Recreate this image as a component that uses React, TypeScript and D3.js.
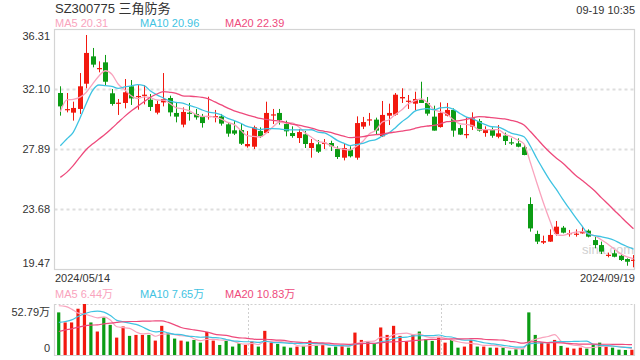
import React from 'react';
import * as d3 from 'd3';

// ---------- data ----------
const mayDays = [14, 15, 16, 17, 20, 21, 22, 23, 24, 27, 28, 29, 30, 31];
const junDays = [3, 4, 5, 6, 7, 11, 12, 13, 14, 17, 18, 19, 20, 21, 24, 25, 26, 27, 28];
const julDays = [1, 2, 3, 4, 5, 8, 9, 10, 11, 12, 15, 16, 17, 18, 19, 22, 23, 24, 25, 26, 29, 30, 31];
const augDays = [1, 2, 5, 6, 7, 8, 9, 12, 13, 14, 15, 16, 19, 20, 21, 22, 23, 26, 27, 28, 29, 30];
const sepDays = [2, 3, 4, 5, 6, 9, 10, 11, 12, 13, 18, 19];

const pad = (n: number) => (n < 10 ? '0' + n : '' + n);
const dates: string[] = [
  ...mayDays.map((d) => `2024/05/${pad(d)}`),
  ...junDays.map((d) => `2024/06/${pad(d)}`),
  ...julDays.map((d) => `2024/07/${pad(d)}`),
  ...augDays.map((d) => `2024/08/${pad(d)}`),
  ...sepDays.map((d) => `2024/09/${pad(d)}`),
];

const opens = [
  31.82, 30.65, 30.44, 30.70, 32.47, 34.39, 33.53, 33.97, 31.80, 31.09,
  31.12, 32.29, 31.56, 31.66, 31.35, 30.44, 31.16, 31.47, 30.42, 29.60,
  30.44, 30.35, 30.18, 30.16, 30.16, 30.18, 29.62, 29.20, 29.22, 28.08,
  28.05, 29.15, 29.01, 30.25, 30.42, 29.64, 29.01, 28.66, 28.92, 27.96,
  28.22, 28.29, 28.31, 27.89, 27.28, 27.84, 27.28, 29.46, 29.92, 29.95,
  28.78, 30.23, 30.30, 31.44, 31.23, 31.07, 31.35, 31.12, 30.16, 29.43,
  30.23, 30.63, 29.36, 28.90, 29.46, 29.85, 29.01, 29.22, 28.75, 28.83,
  28.36, 28.29, 28.01, 24.03, 21.93, 21.32, 21.39, 21.93, 22.37, 21.95,
  21.91, 21.97, 22.16, 21.50, 21.15, 20.43, 20.57, 20.40, 20.17, 20.08,
];
const highs = [
  32.29, 31.82, 31.21, 33.22, 35.89, 34.98, 34.04, 34.49, 32.10, 31.40,
  32.80, 32.73, 32.38, 32.38, 31.75, 31.28, 33.22, 31.63, 31.12, 30.81,
  31.12, 30.70, 30.35, 31.56, 30.63, 30.35, 29.76, 29.85, 29.67, 29.15,
  29.53, 29.41, 31.21, 30.70, 30.70, 29.88, 29.48, 29.29, 29.15, 28.59,
  28.52, 28.59, 28.47, 28.08, 28.24, 28.08, 30.18, 30.14, 30.42, 30.09,
  31.26, 31.07, 31.82, 32.15, 31.68, 31.91, 32.61, 31.54, 30.93, 31.16,
  31.12, 30.74, 29.57, 30.11, 30.46, 30.00, 29.48, 29.41, 29.57, 29.04,
  28.64, 28.64, 28.17, 24.50, 22.16, 21.81, 22.25, 22.84, 22.49, 22.21,
  22.25, 22.49, 22.25, 21.74, 21.39, 20.62, 20.80, 20.50, 20.22, 20.45,
];
const lows = [
  30.23, 30.46, 29.88, 30.35, 32.15, 33.62, 33.27, 32.33, 30.93, 30.28,
  30.74, 30.98, 30.65, 31.02, 30.56, 30.32, 30.88, 30.18, 29.76, 29.41,
  29.88, 29.95, 29.39, 29.95, 29.76, 29.53, 28.75, 28.87, 28.17, 27.98,
  27.89, 28.66, 29.01, 29.64, 29.60, 28.78, 28.68, 28.31, 27.96, 27.28,
  27.61, 27.89, 27.75, 27.19, 27.09, 27.30, 27.14, 29.29, 29.53, 28.94,
  28.73, 29.57, 30.23, 31.12, 30.70, 30.60, 31.12, 30.23, 29.18, 29.39,
  30.18, 28.75, 28.87, 28.64, 29.22, 29.11, 28.75, 28.68, 28.64, 28.17,
  28.17, 28.01, 27.45, 22.09, 21.22, 21.22, 21.37, 21.81, 21.97, 21.74,
  21.74, 21.95, 21.69, 20.92, 20.52, 20.29, 20.29, 20.03, 19.70, 19.59,
];
const closes = [
  30.88, 30.69, 30.77, 32.29, 34.63, 33.81, 33.57, 32.61, 31.05, 31.14,
  31.87, 31.44, 31.61, 31.70, 30.84, 31.05, 31.40, 30.46, 30.16, 30.49,
  30.38, 30.11, 29.71, 30.21, 30.20, 29.67, 28.97, 28.97, 28.26, 28.24,
  29.41, 28.78, 30.42, 30.32, 29.92, 29.13, 28.80, 29.08, 28.24, 28.31,
  27.70, 28.33, 28.08, 27.33, 27.96, 27.38, 29.71, 29.78, 29.97, 29.18,
  30.28, 30.42, 31.70, 31.54, 31.28, 31.40, 31.12, 30.37, 29.18, 30.42,
  30.63, 29.18, 28.90, 28.94, 30.04, 29.18, 29.22, 28.82, 28.99, 28.45,
  28.31, 28.05, 27.47, 22.32, 21.39, 21.43, 21.86, 22.44, 22.02, 21.99,
  21.95, 22.09, 21.74, 21.15, 20.69, 20.47, 20.33, 20.10, 19.98, 20.12,
];
// volume in 万 shares
const volumes = [
  44.1, 33.7, 33.7, 47.9, 52.79, 33.7, 24.3, 38.9, 31.2, 18.0,
  29.5, 19.8, 20.8, 20.8, 20.8, 14.9, 30.2, 22.6, 17.0, 14.9,
  13.9, 15.6, 12.8, 23.9, 14.9, 10.4, 14.6, 8.7, 12.1, 10.4,
  13.9, 8.7, 25.0, 12.8, 11.5, 8.7, 7.6, 8.7, 9.4, 14.9,
  9.7, 10.4, 7.6, 8.7, 10.4, 7.6, 23.2, 15.6, 13.9, 11.5,
  28.5, 20.8, 30.2, 19.8, 13.9, 20.8, 24.3, 16.3, 14.6, 18.0,
  12.8, 15.6, 7.6, 8.7, 15.6, 8.7, 8.7, 7.6, 7.6, 7.6,
  4.5, 5.9, 5.9, 44.1, 20.8, 12.8, 12.1, 15.6, 9.4, 7.6,
  6.6, 7.6, 6.6, 10.4, 12.8, 8.7, 7.6, 5.5, 5.2, 5.4,
];

// moving-average values for the first days (window reaches before the chart)
const ma5Lead = [30.51, 31.33, 31.37, 31.51];
const ma10Lead = [28.12, 28.59, 29.06, 30.0, 31.05, 31.98, 32.38, 32.33, 32.29];
const ma20Lead = [25.9, 26.25, 26.72, 27.3, 27.84, 28.24, 28.59, 28.94, 29.34, 29.76, 30.18, 30.56, 30.88, 31.21, 31.52, 31.75, 31.91, 31.87, 31.8];
const vma5Lead = [51.0, 50.3, 47.5, 43.4];
const vma10Lead = [33.7, 34.7, 36.4, 39.9, 42.7, 44.8, 45.5, 44.4, 40.9];
const vma20Lead = [24.3, 26.0, 27.1, 28.8, 30.2, 30.9, 31.2, 32.3, 33.0, 33.7, 34.4, 34.7, 34.7, 35.0, 35.0, 35.4, 35.4, 33.7, 31.2];

const priceTicks = ['36.31', '32.10', '27.89', '23.68', '19.47'];
const volTicks = ['52.79万', '0'];
const title = 'SZ300775 三角防务';
const timeLabel = '09-19 10:35';
const priceLegend = [
  { name: 'MA5', value: '20.31' },
  { name: 'MA10', value: '20.96' },
  { name: 'MA20', value: '22.39' },
];
const volLegend = [
  { name: 'MA5', value: '6.44万' },
  { name: 'MA10', value: '7.65万' },
  { name: 'MA20', value: '10.83万' },
];

// ---------- style ----------
const RED = '#f2190f';
const GREEN = '#0c9c14';
const MA_COLORS = ['#f9a3bd', '#3fc3e2', '#ee4a7c'];
const FONT = '"Liberation Sans", Arial, "Noto Sans CJK SC", sans-serif';
const TEXT = '#333';

function movingAvg(vals: number[], n: number, lead: number[]): number[] {
  return vals.map((_, i) => (i < n - 1 ? lead[i] : (d3.mean(vals.slice(i - n + 1, i + 1)) as number)));
}

export default function App() {
  const W = 640;
  const H = 360;
  const left = 54.5;
  const right = 634.5;
  const pTop = 29;
  const pBot = 269;
  const vTop = 304;
  const vBot = 355;

  const x = d3.scaleBand<string>().domain(dates).range([57.1, 636.7]).paddingInner(0);
  const bw = x.bandwidth();
  const cx = (i: number) => (x(dates[i]) as number) + bw / 2;

  const yMin = +priceTicks[priceTicks.length - 1];
  const yMax = +priceTicks[0];
  const y = d3.scaleLinear().domain([yMin, yMax]).range([pBot, pTop]);
  const vy = d3.scaleLinear().domain([0, d3.max(volumes) as number]).range([vBot, vTop]);

  const ma5 = movingAvg(closes, 5, ma5Lead);
  const ma10 = movingAvg(closes, 10, ma10Lead);
  const ma20 = movingAvg(closes, 20, ma20Lead);
  const vma5 = movingAvg(volumes, 5, vma5Lead);
  const vma10 = movingAvg(volumes, 10, vma10Lead);
  const vma20 = movingAvg(volumes, 20, vma20Lead);

  const pLine = d3
    .line<number>()
    .x((_, i) => cx(i))
    .y((d) => y(d))
    .curve(d3.curveMonotoneX);
  const vLine = d3
    .line<number>()
    .x((_, i) => cx(i) - 1.5)
    .y((d) => vy(d))
    .curve(d3.curveMonotoneX);

  const bodyW = 5;
  const volW = 3.2;

  return (
    <svg
      width={W}
      height={H}
      style={{ position: 'absolute', left: 0, top: 0, background: '#fff' }}
      fontFamily={FONT}
    >
      <defs>
        <clipPath id="pclip">
          <rect x={left} y={pTop} width={right - left} height={pBot - pTop} />
        </clipPath>
        <clipPath id="vclip">
          <rect x={left} y={vTop - 2} width={right - left} height={vBot - vTop + 2} />
        </clipPath>
      </defs>
      <rect x={0} y={0} width={W} height={H} fill="#fff" />

      {/* header */}
      <text x={55} y={12.5} fontSize={13} fill={TEXT}>
        {title}
      </text>
      <text x={635} y={14} fontSize={11} fill={TEXT} textAnchor="end">
        {timeLabel}
      </text>
      {priceLegend.map((l, k) => (
        <text key={l.name} x={55 + k * 85} y={26.5} fontSize={11} fill={MA_COLORS[k]}>
          {`${l.name} ${l.value}`}
        </text>
      ))}

      {/* price grid */}
      {priceTicks.slice(1, -1).map((t) => (
        <line
          key={t}
          x1={left}
          x2={right}
          y1={Math.round(y(+t)) + 0.5}
          y2={Math.round(y(+t)) + 0.5}
          stroke="#dedede"
          strokeWidth={2}
          strokeDasharray="3,3"
        />
      ))}
      <rect x={left} y={pTop + 0.5} width={right - left} height={pBot - pTop} fill="none" stroke="#d4d4d4" strokeWidth={1.2} />

      {priceTicks.map((t, k) => {
        const yy = y(+t);
        let baseline = yy + 4;
        if (k === 0) baseline = yy + 10.5;
        if (k === priceTicks.length - 1) baseline = yy - 2;
        return (
          <text key={t} x={50} y={baseline} fontSize={11} fill={TEXT} textAnchor="end">
            {t}
          </text>
        );
      })}

      {/* watermark */}
      <text x={582} y={254} fontSize={13} fill="#c9c9c9" opacity={0.85}>
        sina.com
      </text>

      {/* candles */}
      <g clipPath="url(#pclip)">
        {dates.map((d, i) => {
          const up = closes[i] >= opens[i];
          const col = up ? RED : GREEN;
          const c = Math.round(cx(i));
          const top = y(Math.max(opens[i], closes[i]));
          const bot = y(Math.min(opens[i], closes[i]));
          return (
            <g key={d}>
              <line x1={c + 0.5} x2={c + 0.5} y1={y(highs[i])} y2={y(lows[i])} stroke={col} strokeWidth={1} />
              <rect x={c + 0.5 - bodyW / 2} y={top} width={bodyW} height={Math.max(1.2, bot - top)} fill={col} />
            </g>
          );
        })}
        {[ma5, ma10, ma20].map((m, k) => (
          <path key={k} d={pLine(m) as string} fill="none" stroke={MA_COLORS[k]} strokeWidth={1.3} />
        ))}
      </g>

      {/* dates */}
      <text x={55} y={282} fontSize={11} fill={TEXT}>
        {dates[0]}
      </text>
      <text x={635} y={282} fontSize={11} fill={TEXT} textAnchor="end">
        {dates[dates.length - 1]}
      </text>

      {/* volume legend */}
      {volLegend.map((l, k) => (
        <text key={l.name} x={55 + k * 85} y={298} fontSize={11} fill={MA_COLORS[k]}>
          {`${l.name} ${l.value}`}
        </text>
      ))}

      {/* volume frame */}
      <line x1={left} x2={right} y1={vTop + 0.5} y2={vTop + 0.5} stroke="#cfcfcf" strokeWidth={1} strokeDasharray="2,2" />
      <line x1={left} x2={left} y1={vTop} y2={vBot + 1} stroke="#d4d4d4" strokeWidth={1.2} />
      <line x1={right} x2={right} y1={vTop} y2={vBot + 1} stroke="#d4d4d4" strokeWidth={1.2} />
      <line x1={left} x2={right} y1={vBot + 0.5} y2={vBot + 0.5} stroke="#d4d4d4" strokeWidth={1} />
      {[1, 2].map((k) => {
        const xx = Math.round(left + ((right - left) * k) / 3) + 0.5;
        return <line key={k} x1={xx} x2={xx} y1={vTop} y2={vBot} stroke="#cfcfcf" strokeWidth={1} strokeDasharray="2,2" />;
      })}
      <text x={50} y={vTop + 11.5} fontSize={11} fill={TEXT} textAnchor="end">
        {volTicks[0]}
      </text>
      <text x={50} y={vBot - 3} fontSize={11} fill={TEXT} textAnchor="end">
        {volTicks[1]}
      </text>

      <g clipPath="url(#vclip)">
        {dates.map((d, i) => {
          const up = closes[i] >= opens[i];
          const x0 = x(d) as number;
          return (
            <rect key={d} x={x0} y={vy(volumes[i])} width={volW} height={vBot - vy(volumes[i])} fill={up ? RED : GREEN} />
          );
        })}
        {[vma5, vma10, vma20].map((m, k) => (
          <path key={k} d={vLine(m) as string} fill="none" stroke={MA_COLORS[k]} strokeWidth={1.2} />
        ))}
      </g>
    </svg>
  );
}
